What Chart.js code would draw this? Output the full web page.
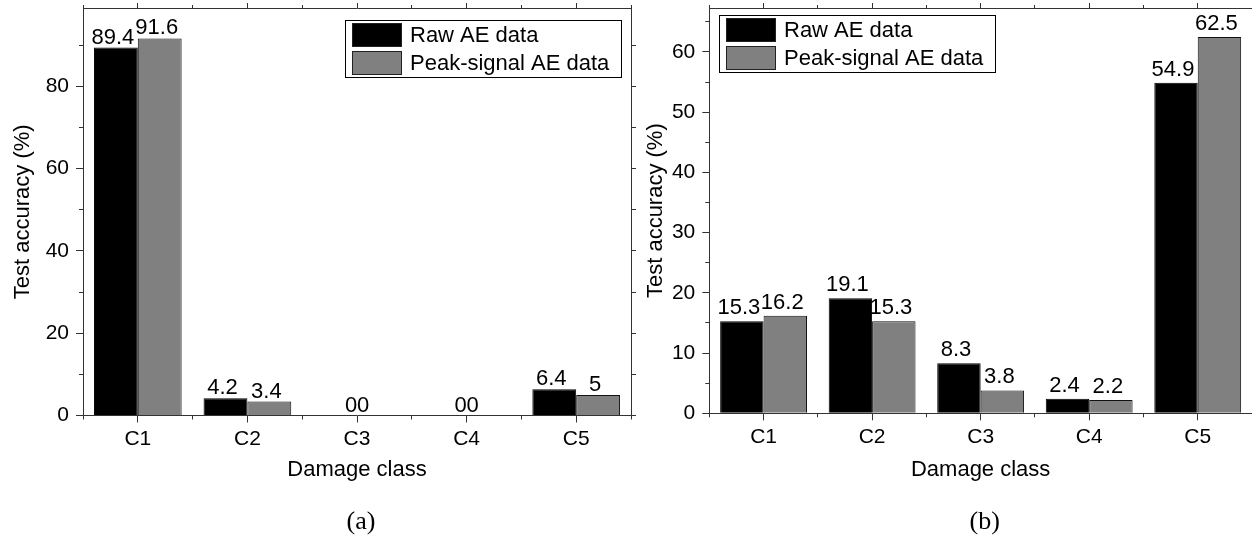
<!DOCTYPE html>
<html>
<head>
<meta charset="utf-8">
<script src="https://cdn.jsdelivr.net/npm/chart.js@4"></script>
<style>
  html, body { margin: 0; padding: 0; background: #fff; }
  body { width: 1252px; height: 538px; position: relative; overflow: hidden; }
  .panel { position: absolute; top: 0; height: 538px; }
  #left { left: 0; width: 640px; }
  #right { left: 640px; width: 612px; }
</style>
</head>
<body>
<div class="panel" id="left"><canvas id="chartA"></canvas></div>
<div class="panel" id="right"><canvas id="chartB"></canvas></div>
<script>
// data
var classes = ['C1', 'C2', 'C3', 'C4', 'C5'];
var seriesNames = ['Raw AE data', 'Peak-signal AE data'];
var rawA = [89.4, 4.2, 0, 0, 6.4];
var peakA = [91.6, 3.4, 0, 0, 5];
var rawB = [15.3, 19.1, 8.3, 2.4, 54.9];
var peakB = [16.2, 15.3, 3.8, 2.2, 62.5];
var yTicksA = [0, 20, 40, 60, 80];
var yTicksB = [0, 10, 20, 30, 40, 50, 60];

var FONT = '"Liberation Sans", Arial, sans-serif';
var AXIS = '#333';
Chart.defaults.font.family = FONT;
Chart.defaults.color = '#000';

// numbers above the bars
var valueLabels = {
  id: 'valueLabels',
  afterDatasetsDraw: function (chart, args, opts) {
    var ctx = chart.ctx;
    var xs = chart.scales.x;
    ctx.save();
    ctx.font = '22px ' + FONT;
    ctx.fillStyle = '#000';
    ctx.textAlign = 'center';
    ctx.textBaseline = 'alphabetic';
    chart.data.datasets.forEach(function (ds, i) {
      chart.getDatasetMeta(i).data.forEach(function (bar, j) {
        var x = bar.x - 3;
        if (ds.data[j] === 0) {
          // empty bars: the two zeros sit together over the class
          var mid = xs.getPixelForValue(j);
          x = bar.x < mid ? mid - 6 : mid + 6;
        }
        ctx.fillText(String(ds.data[j]), x, bar.y - opts.gap);
      });
    });
    ctx.restore();
  }
};

// framed legend inside the plot
var boxLegend = {
  id: 'boxLegend',
  afterDraw: function (chart, args, opts) {
    var ctx = chart.ctx, area = chart.chartArea;
    ctx.save();
    ctx.font = '22px ' + FONT;
    var tw = 0;
    chart.data.datasets.forEach(function (ds) {
      tw = Math.max(tw, ctx.measureText(ds.label).width);
    });
    var w = Math.round(7 + 50 + 8 + tw + 12), h = 57;
    var x = opts.align === 'right' ? Math.round(area.right - opts.inset - w) : Math.round(area.left + opts.inset);
    var y = Math.round(area.top + opts.top);
    ctx.fillStyle = '#fff';
    ctx.fillRect(x, y, w, h);
    ctx.strokeStyle = '#000';
    ctx.lineWidth = 1;
    ctx.strokeRect(x + 0.5, y + 0.5, w, h);
    chart.data.datasets.forEach(function (ds, i) {
      var ry = y + 3 + i * 28;
      ctx.fillStyle = ds.backgroundColor;
      ctx.fillRect(x + 7, ry, 50, 24);
      ctx.strokeStyle = '#222';
      ctx.strokeRect(x + 7.5, ry + 0.5, 49, 23);
      ctx.fillStyle = '#000';
      ctx.textAlign = 'left';
      ctx.textBaseline = 'middle';
      ctx.fillText(ds.label, x + 65, ry + 13);
    });
    ctx.restore();
  }
};

// (a) / (b) under each panel
var caption = {
  id: 'caption',
  afterDraw: function (chart, args, opts) {
    var ctx = chart.ctx, area = chart.chartArea;
    ctx.save();
    ctx.font = '26px "Liberation Serif", "Times New Roman", serif';
    ctx.fillStyle = '#000';
    ctx.textAlign = 'center';
    ctx.textBaseline = 'middle';
    ctx.fillText(opts.text, (area.left + area.right) / 2 + 4, chart.height - 16);
    ctx.restore();
  }
};

// pin the axis box size and drop the label overhang padding
function fixSize(prop, size) {
  return function (s) {
    s[prop] = size;
    s.paddingTop = 0; s.paddingBottom = 0;
    s.paddingLeft = 0; s.paddingRight = 0;
  };
}

function makeChart(id, raw, peak, yMax, yStep, majorTicks, o) {
  var ctx = document.getElementById(id).getContext('2d');
  var tickFont = { size: 21, family: FONT };
  var titleFont = { size: 22, family: FONT };

  var scales = {
    x: {
      axis: 'x', type: 'category', position: 'bottom', offset: true,
      grid: { offset: false, drawOnChartArea: false, tickLength: 7, color: AXIS },
      border: { color: AXIS },
      ticks: { padding: 4, maxRotation: 0, color: '#000', font: tickFont },
      title: { display: true, text: 'Damage class', color: '#000', font: titleFont, padding: { top: 0, bottom: 22 } },
      afterFit: fixSize('height', o.xHeight)
    },
    xMinor: {
      axis: 'x', type: 'category', position: 'bottom', weight: -1, offset: true,
      grid: { offset: true, drawOnChartArea: false, tickLength: 4, color: AXIS },
      border: { display: false },
      ticks: { display: false },
      afterFit: fixSize('height', 0)
    },
    xTop: {
      axis: 'x', type: 'category', position: 'top', offset: true,
      grid: { offset: false, drawOnChartArea: false, tickLength: 5, color: AXIS },
      border: { color: AXIS },
      ticks: { display: false },
      afterFit: fixSize('height', 8)
    },
    xTopMinor: {
      axis: 'x', type: 'category', position: 'top', weight: -1, offset: true,
      grid: { offset: true, drawOnChartArea: false, tickLength: 3, color: AXIS },
      border: { display: false },
      ticks: { display: false },
      afterFit: fixSize('height', 0)
    },
    y: {
      axis: 'y', position: 'left', min: 0, max: yMax,
      grid: { drawOnChartArea: false, tickLength: 7, color: AXIS },
      border: { color: AXIS },
      ticks: { padding: 7, color: '#000', font: tickFont },
      afterBuildTicks: function (s) { s.ticks = majorTicks.map(function (v) { return { value: v }; }); },
      title: { display: true, text: 'Test accuracy (%)', color: '#000', font: titleFont, padding: { top: o.yTitlePad, bottom: 0 } },
      afterFit: fixSize('width', o.yWidth)
    },
    yMinor: {
      axis: 'y', position: 'left', weight: -1, min: 0, max: yMax,
      grid: { drawOnChartArea: false, tickLength: 4, color: AXIS },
      border: { display: false },
      ticks: { display: false, stepSize: yStep, includeBounds: false },
      afterFit: fixSize('width', 0)
    }
  };
  if (o.rightAxis) {
    scales.yRight = {
      axis: 'y', position: 'right', min: 0, max: yMax,
      grid: { drawOnChartArea: false, tickLength: 5, color: AXIS },
      border: { color: AXIS },
      ticks: { display: false, stepSize: yStep, includeBounds: false },
      afterFit: fixSize('width', 9)
    };
  }

  return new Chart(ctx, {
    type: 'bar',
    data: {
      labels: classes,
      datasets: [{
        label: seriesNames[0],
        data: raw,
        xAxisID: 'x', yAxisID: 'y',
        backgroundColor: '#000000',
        borderColor: '#000000',
        borderWidth: 1,
        categoryPercentage: 0.8,
        barPercentage: 1.0
      }, {
        label: seriesNames[1],
        data: peak,
        xAxisID: 'x', yAxisID: 'y',
        backgroundColor: '#808080',
        borderColor: '#111111',
        borderWidth: 1,
        categoryPercentage: 0.8,
        barPercentage: 1.0
      }]
    },
    options: {
      responsive: true,
      maintainAspectRatio: false,
      devicePixelRatio: 1,
      animation: false,
      layout: { padding: { top: 0, left: 0, right: 0, bottom: 33 } },
      scales: scales,
      plugins: {
        legend: { display: false },
        tooltip: { enabled: false },
        valueLabels: { gap: o.labelGap },
        boxLegend: { align: o.legendAlign, inset: 10, top: o.legendTop },
        caption: { text: o.caption }
      }
    },
    plugins: [valueLabels, boxLegend, caption]
  });
}

makeChart('chartA', rawA, peakA, 99, 10, yTicksA, {
  xHeight: 89.5, yWidth: 83, yTitlePad: 10, rightAxis: true,
  labelGap: 4, legendAlign: 'right', legendTop: 12, caption: '(a)'
});
makeChart('chartB', rawB, peakB, 67.3, 5, yTicksB, {
  xHeight: 91.7, yWidth: 69.3, yTitlePad: 3, rightAxis: false,
  labelGap: 7, legendAlign: 'left', legendTop: 7, caption: '(b)'
});
</script>
</body>
</html>
